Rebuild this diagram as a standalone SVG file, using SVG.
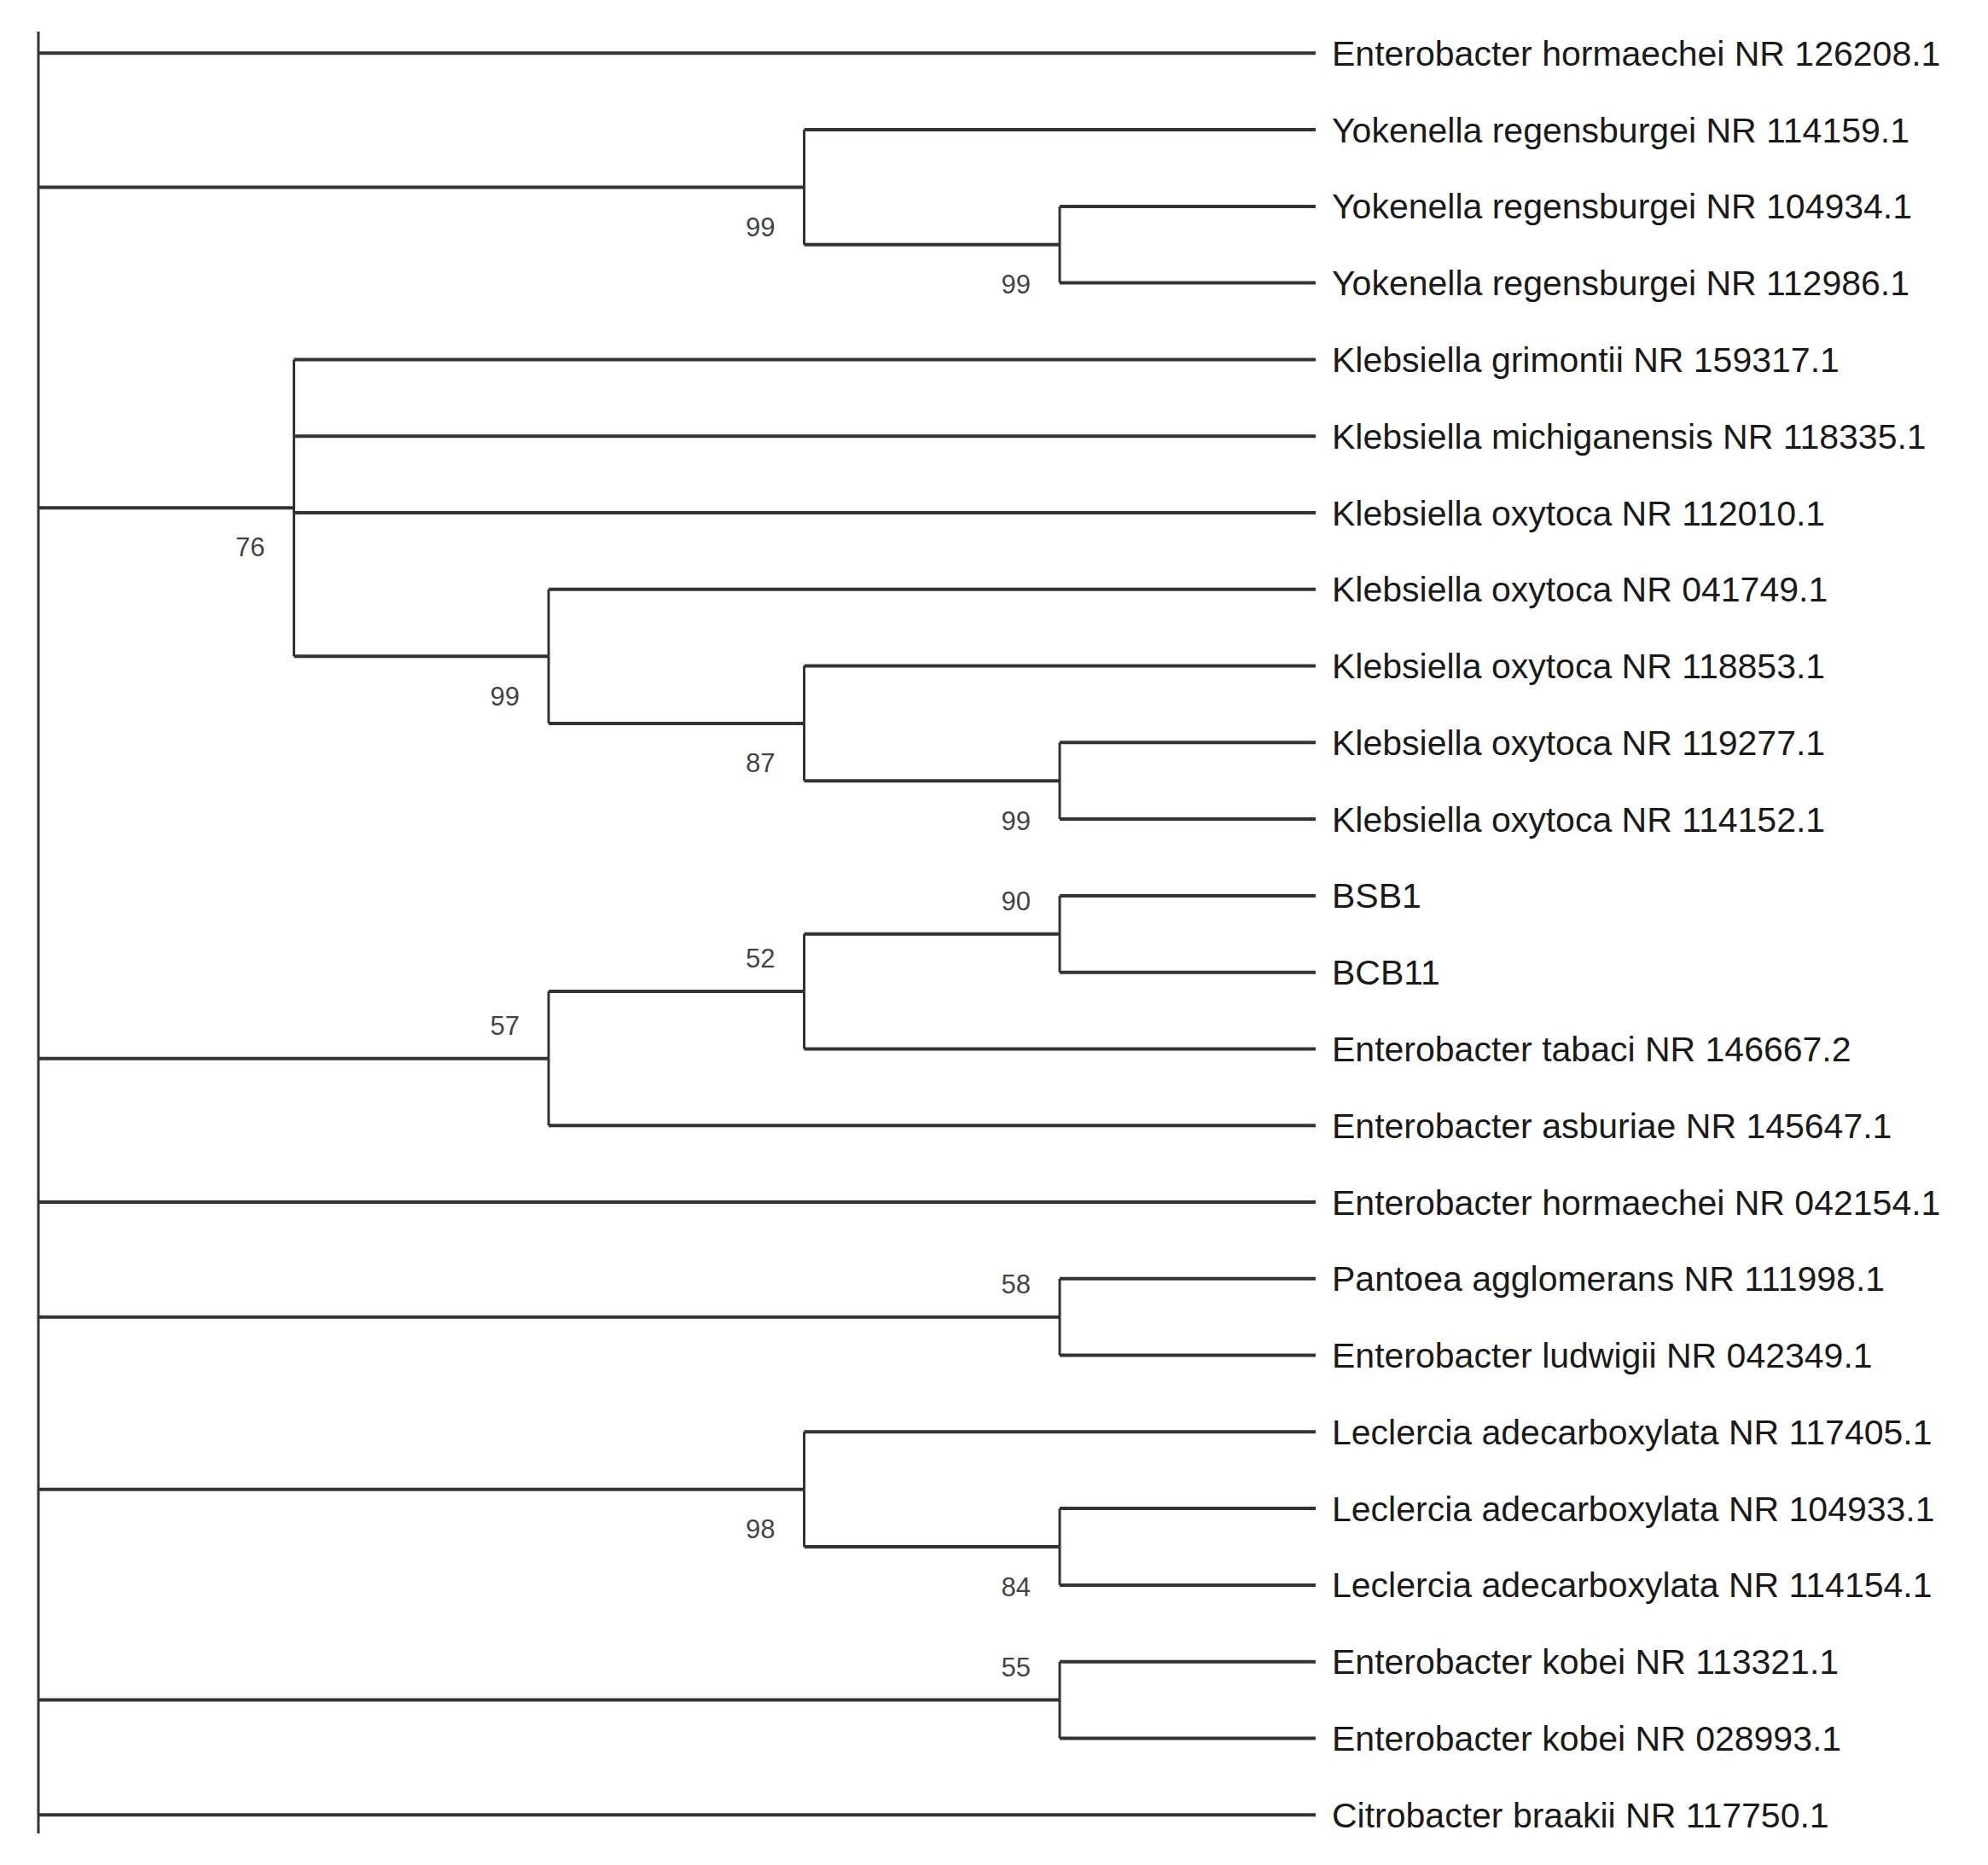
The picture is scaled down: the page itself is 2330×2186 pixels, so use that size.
<svg xmlns="http://www.w3.org/2000/svg" width="2330" height="2186" viewBox="0 0 2330 2186">
<style>
.h{stroke:#333;stroke-width:4;fill:none}
.v{stroke:#333;stroke-width:3;fill:none}
.lab{font-family:"Liberation Sans",Arial,sans-serif;font-size:41px;fill:#1a1a1a}
.bs{font-family:"Liberation Sans",Arial,sans-serif;font-size:31px;fill:#444;text-anchor:end}
</style>
<rect width="2330" height="2186" fill="#fff"/>
<g id="connectors">
<!-- root -->
<line class="v" x1="45" y1="37" x2="45" y2="2149"/>
<line class="h" x1="45" y1="62.3" x2="1542" y2="62.3"/>
<line class="h" x1="45" y1="219.4" x2="942.5" y2="219.4"/>
<line class="h" x1="45" y1="595.3" x2="344.5" y2="595.3"/>
<line class="h" x1="45" y1="1240.7" x2="643" y2="1240.7"/>
<line class="h" x1="45" y1="1409" x2="1542" y2="1409"/>
<line class="h" x1="45" y1="1543.7" x2="1242" y2="1543.7"/>
<line class="h" x1="45" y1="1745.7" x2="942.5" y2="1745.7"/>
<line class="h" x1="45" y1="1992.6" x2="1242" y2="1992.6"/>
<line class="h" x1="45" y1="2127.3" x2="1542" y2="2127.3"/>
<!-- Yokenella -->
<line class="v" x1="942.5" y1="152.1" x2="942.5" y2="286.8"/>
<line class="h" x1="942.5" y1="152.1" x2="1542" y2="152.1"/>
<line class="h" x1="942.5" y1="286.8" x2="1242" y2="286.8"/>
<line class="v" x1="1242" y1="241.9" x2="1242" y2="331.6"/>
<line class="h" x1="1242" y1="241.9" x2="1542" y2="241.9"/>
<line class="h" x1="1242" y1="331.6" x2="1542" y2="331.6"/>
<!-- Klebsiella -->
<line class="v" x1="344.5" y1="421.4" x2="344.5" y2="769.3"/>
<line class="h" x1="344.5" y1="421.4" x2="1542" y2="421.4"/>
<line class="h" x1="344.5" y1="511.2" x2="1542" y2="511.2"/>
<line class="h" x1="344.5" y1="601" x2="1542" y2="601"/>
<line class="h" x1="344.5" y1="769.3" x2="643" y2="769.3"/>
<line class="v" x1="643" y1="690.8" x2="643" y2="847.9"/>
<line class="h" x1="643" y1="690.8" x2="1542" y2="690.8"/>
<line class="h" x1="643" y1="847.9" x2="942.5" y2="847.9"/>
<line class="v" x1="942.5" y1="780.5" x2="942.5" y2="915.2"/>
<line class="h" x1="942.5" y1="780.5" x2="1542" y2="780.5"/>
<line class="h" x1="942.5" y1="915.2" x2="1242" y2="915.2"/>
<line class="v" x1="1242" y1="870.3" x2="1242" y2="960.1"/>
<line class="h" x1="1242" y1="870.3" x2="1542" y2="870.3"/>
<line class="h" x1="1242" y1="960.1" x2="1542" y2="960.1"/>
<!-- BSB clade -->
<line class="v" x1="643" y1="1162.1" x2="643" y2="1319.2"/>
<line class="h" x1="643" y1="1162.1" x2="942.5" y2="1162.1"/>
<line class="h" x1="643" y1="1319.2" x2="1542" y2="1319.2"/>
<line class="v" x1="942.5" y1="1094.8" x2="942.5" y2="1229.5"/>
<line class="h" x1="942.5" y1="1094.8" x2="1242" y2="1094.8"/>
<line class="h" x1="942.5" y1="1229.5" x2="1542" y2="1229.5"/>
<line class="v" x1="1242" y1="1049.9" x2="1242" y2="1139.7"/>
<line class="h" x1="1242" y1="1049.9" x2="1542" y2="1049.9"/>
<line class="h" x1="1242" y1="1139.7" x2="1542" y2="1139.7"/>
<!-- Pantoea -->
<line class="v" x1="1242" y1="1498.8" x2="1242" y2="1588.6"/>
<line class="h" x1="1242" y1="1498.8" x2="1542" y2="1498.8"/>
<line class="h" x1="1242" y1="1588.6" x2="1542" y2="1588.6"/>
<!-- Leclercia -->
<line class="v" x1="942.5" y1="1678.3" x2="942.5" y2="1813"/>
<line class="h" x1="942.5" y1="1678.3" x2="1542" y2="1678.3"/>
<line class="h" x1="942.5" y1="1813" x2="1242" y2="1813"/>
<line class="v" x1="1242" y1="1768.1" x2="1242" y2="1857.9"/>
<line class="h" x1="1242" y1="1768.1" x2="1542" y2="1768.1"/>
<line class="h" x1="1242" y1="1857.9" x2="1542" y2="1857.9"/>
<!-- kobei -->
<line class="v" x1="1242" y1="1947.7" x2="1242" y2="2037.5"/>
<line class="h" x1="1242" y1="1947.7" x2="1542" y2="1947.7"/>
<line class="h" x1="1242" y1="2037.5" x2="1542" y2="2037.5"/>
</g>
<g id="leaves">
<g id="leaf0"><text class="lab" x="1561" y="76.8">Enterobacter hormaechei NR 126208.1</text></g>
<g id="leaf1"><text class="lab" x="1561" y="166.6">Yokenella regensburgei NR 114159.1</text></g>
<g id="leaf2"><text class="lab" x="1561" y="256.4">Yokenella regensburgei NR 104934.1</text></g>
<g id="leaf3"><text class="lab" x="1561" y="346.1">Yokenella regensburgei NR 112986.1</text></g>
<g id="leaf4"><text class="lab" x="1561" y="435.9">Klebsiella grimontii NR 159317.1</text></g>
<g id="leaf5"><text class="lab" x="1561" y="525.7">Klebsiella michiganensis NR 118335.1</text></g>
<g id="leaf6"><text class="lab" x="1561" y="615.5">Klebsiella oxytoca NR 112010.1</text></g>
<g id="leaf7"><text class="lab" x="1561" y="705.3">Klebsiella oxytoca NR 041749.1</text></g>
<g id="leaf8"><text class="lab" x="1561" y="795">Klebsiella oxytoca NR 118853.1</text></g>
<g id="leaf9"><text class="lab" x="1561" y="884.8">Klebsiella oxytoca NR 119277.1</text></g>
<g id="leaf10"><text class="lab" x="1561" y="974.6">Klebsiella oxytoca NR 114152.1</text></g>
<g id="leaf11"><text class="lab" x="1561" y="1064.4">BSB1</text></g>
<g id="leaf12"><text class="lab" x="1561" y="1154.2">BCB11</text></g>
<g id="leaf13"><text class="lab" x="1561" y="1244">Enterobacter tabaci NR 146667.2</text></g>
<g id="leaf14"><text class="lab" x="1561" y="1333.7">Enterobacter asburiae NR 145647.1</text></g>
<g id="leaf15"><text class="lab" x="1561" y="1423.5">Enterobacter hormaechei NR 042154.1</text></g>
<g id="leaf16"><text class="lab" x="1561" y="1513.3">Pantoea agglomerans NR 111998.1</text></g>
<g id="leaf17"><text class="lab" x="1561" y="1603.1">Enterobacter ludwigii NR 042349.1</text></g>
<g id="leaf18"><text class="lab" x="1561" y="1692.8">Leclercia adecarboxylata NR 117405.1</text></g>
<g id="leaf19"><text class="lab" x="1561" y="1782.6">Leclercia adecarboxylata NR 104933.1</text></g>
<g id="leaf20"><text class="lab" x="1561" y="1872.4">Leclercia adecarboxylata NR 114154.1</text></g>
<g id="leaf21"><text class="lab" x="1561" y="1962.2">Enterobacter kobei NR 113321.1</text></g>
<g id="leaf22"><text class="lab" x="1561" y="2052">Enterobacter kobei NR 028993.1</text></g>
<g id="leaf23"><text class="lab" x="1561" y="2141.8">Citrobacter braakii NR 117750.1</text></g>
</g>
<g id="bootstrap">
<g id="n-yok-inner"><text class="bs" x="1208" y="344.3">99</text></g>
<g id="n-yok"><text class="bs" x="908.5" y="276.9">99</text></g>
<g id="n-kleb"><text class="bs" x="310.5" y="651.8">76</text></g>
<g id="n-kox1"><text class="bs" x="609" y="826.8">99</text></g>
<g id="n-kox2"><text class="bs" x="908.5" y="905.4">87</text></g>
<g id="n-kox3"><text class="bs" x="1208" y="972.7">99</text></g>
<g id="n-bsb"><text class="bs" x="1208" y="1067">90</text></g>
<g id="n-tab"><text class="bs" x="908.5" y="1134.3">52</text></g>
<g id="n-asb"><text class="bs" x="609" y="1212.5">57</text></g>
<g id="n-pan"><text class="bs" x="1208" y="1515.5">58</text></g>
<g id="n-lec"><text class="bs" x="908.5" y="1803.2">98</text></g>
<g id="n-lec2"><text class="bs" x="1208" y="1870.5">84</text></g>
<g id="n-kob"><text class="bs" x="1208" y="1964.6">55</text></g>
</g>
</svg>
